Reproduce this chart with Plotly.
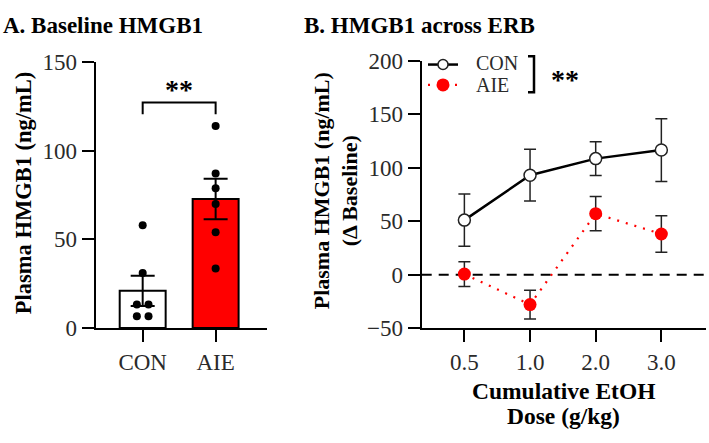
import plotly.graph_objects as go

# ---------------- data ----------------
groups = ["CON", "AIE"]
baseline_means = [21.0, 72.7]
baseline_sem = [8.5, 11.4]
con_points = [57.9, 31.0, 13.3, 13.3, 6.7, 6.7]
aie_points = [113.8, 87.1, 78.8, 69.9, 54.0, 33.6]

doses = ["0.5", "1.0", "2.0", "3.0"]
con_delta = [51.0, 93.0, 108.5, 116.5]
con_delta_sem = [24.5, 24.2, 15.7, 29.3]
aie_delta = [0.5, -28.0, 57.0, 38.0]
aie_delta_sem = [11.5, 13.5, 16.0, 17.0]

yticks_a = [0, 50, 100, 150]
yticks_b = [-50, 0, 50, 100, 150, 200]

# ---------------- style ----------------
W, H = 709, 443
FONT = "Liberation Serif"
TICK_COLOR = "#2a2a2a"
con_jitter = [0, 0, -0.08, 0.08, -0.08, 0.08]
aie_jitter = [0, 0, 0, 0, 0, 0]


def px(x):
    return x / W


def py(y):
    return 1 - y / H


fig = go.Figure()

# ---- Panel A: bars ----
fig.add_trace(go.Bar(
    x=list(range(len(groups))), y=baseline_means,
    width=0.63,
    marker=dict(color=["white", "#ff0000"], line=dict(color="black", width=2)),
    error_y=dict(type="data", array=baseline_sem, visible=True,
                 color="black", thickness=2, width=12),
    xaxis="x", yaxis="y", showlegend=False,
))
fig.add_trace(go.Scatter(
    x=[0 + j for j in con_jitter], y=con_points, mode="markers",
    marker=dict(color="black", size=8),
    xaxis="x", yaxis="y", showlegend=False,
))
fig.add_trace(go.Scatter(
    x=[1 + j for j in aie_jitter], y=aie_points, mode="markers",
    marker=dict(color="black", size=8),
    xaxis="x", yaxis="y", showlegend=False,
))

# ---- Panel B: lines ----
xb = list(range(len(doses)))
fig.add_trace(go.Scatter(
    x=xb, y=aie_delta, mode="lines+markers", name="AIE",
    line=dict(color="#ff0000", width=2.2, dash="2px,7px"),
    marker=dict(color="#ff0000", size=13, symbol="circle"),
    error_y=dict(type="data", array=aie_delta_sem, visible=True,
                 color="#222222", thickness=1.5, width=6),
    xaxis="x2", yaxis="y2", showlegend=False,
))
fig.add_trace(go.Scatter(
    x=xb, y=con_delta, mode="lines+markers", name="CON",
    line=dict(color="black", width=2.5),
    marker=dict(color="white", size=12, symbol="circle",
                line=dict(color="#222222", width=1.5)),
    error_y=dict(type="data", array=con_delta_sem, visible=True,
                 color="#222222", thickness=1.5, width=6),
    xaxis="x2", yaxis="y2", showlegend=False,
))

axis_common = dict(
    showline=True, linecolor="black", linewidth=2,
    ticks="outside", ticklen=12, tickwidth=2, tickcolor="black",
    showgrid=False, zeroline=False,
    tickfont=dict(family=FONT, size=23, color=TICK_COLOR),
)

fig.update_layout(
    width=W, height=H,
    margin=dict(l=0, r=0, t=0, b=0),
    paper_bgcolor="white", plot_bgcolor="white",
    font=dict(family=FONT, color="black"),
    xaxis=dict(axis_common, domain=[px(95.7), px(266.7)], anchor="y",
               range=[-0.644, 1.70], tickvals=[0, 1], ticktext=groups),
    yaxis=dict(axis_common, domain=[py(335), py(52.7)], anchor="x",
               range=[0, 150], tickvals=yticks_a),
    xaxis2=dict(axis_common, domain=[px(421.7), px(706)], anchor="y2",
                range=[-0.65, 3.68], tickvals=xb, ticktext=doses),
    yaxis2=dict(axis_common, domain=[py(335), py(51.7)], anchor="x2",
                range=[-50, 200], tickvals=yticks_b),
)

shapes = []
annotations = []

# significance bracket A
shapes.append(dict(type="path", xref="x", yref="y",
                   path="M 0,120.4 L 0,127 L 1,127 L 1,120.4",
                   line=dict(color="black", width=2)))
annotations.append(dict(xref="x", yref="y", x=0.5, y=134.6, yanchor="middle",
                        text="<b>**</b>", showarrow=False,
                        font=dict(family=FONT, size=28, color="black")))

# zero dashed line B
shapes.append(dict(type="line", xref="x2 domain", yref="y2", x0=0, x1=1, y0=0, y1=0,
                   line=dict(color="black", width=2, dash="10px,7px"), layer="below"))

# manual legend B
shapes.append(dict(type="line", xref="paper", yref="paper",
                   x0=px(428), x1=px(458), y0=py(55.7), y1=py(55.7),
                   line=dict(color="black", width=2.5)))
shapes.append(dict(type="circle", xref="paper", yref="paper",
                   xsizemode="pixel", ysizemode="pixel",
                   xanchor=px(443), yanchor=py(55.7), x0=-5, x1=5, y0=-5, y1=5,
                   fillcolor="white", line=dict(color="#222222", width=1.5)))
shapes.append(dict(type="line", xref="paper", yref="paper",
                   x0=px(428), x1=px(458), y0=py(77.3), y1=py(77.3),
                   line=dict(color="#ff0000", width=2.2, dash="2px,7px")))
shapes.append(dict(type="circle", xref="paper", yref="paper",
                   xsizemode="pixel", ysizemode="pixel",
                   xanchor=px(443), yanchor=py(77.3), x0=-6.5, x1=6.5, y0=-6.5, y1=6.5,
                   fillcolor="#ff0000", line=dict(color="#ff0000", width=0)))
annotations.append(dict(xref="paper", yref="paper", x=px(474), y=py(54.5),
                        xanchor="left", yanchor="middle", text="CON", showarrow=False,
                        font=dict(family=FONT, size=20, color=TICK_COLOR)))
annotations.append(dict(xref="paper", yref="paper", x=px(474), y=py(77.5),
                        xanchor="left", yanchor="middle", text="AIE", showarrow=False,
                        font=dict(family=FONT, size=20, color=TICK_COLOR)))
shapes.append(dict(type="path", xref="paper", yref="paper",
                   path=f"M {px(528)},{py(47)} L {px(534)},{py(47)} L {px(534)},{py(85)} L {px(528)},{py(85)}",
                   line=dict(color="black", width=2.5)))
annotations.append(dict(xref="paper", yref="paper", x=px(565), y=py(71.5),
                        xanchor="center", yanchor="middle", text="<b>**</b>", showarrow=False,
                        font=dict(family=FONT, size=28, color="black")))

# titles
annotations.append(dict(xref="paper", yref="paper", x=px(2), y=1,
                        xanchor="left", yanchor="top", text="<b>A. Baseline HMGB1</b>",
                        borderpad=0,
                        showarrow=False, font=dict(family=FONT, size=23, color="black")))
annotations.append(dict(xref="paper", yref="paper", x=px(303), y=1,
                        xanchor="left", yanchor="top", text="<b>B. HMGB1 across ERB</b>",
                        borderpad=0,
                        showarrow=False, font=dict(family=FONT, size=23, color="black")))

# axis titles
annotations.append(dict(xref="paper", yref="paper", x=px(23), y=py(192),
                        xanchor="center", yanchor="middle", textangle=-90,
                        text="<b>Plasma HMGB1 (ng/mL)</b>",
                        showarrow=False, font=dict(family=FONT, size=22.5, color="black")))
annotations.append(dict(xref="paper", yref="paper", x=px(336), y=py(190),
                        xanchor="center", yanchor="middle", textangle=-90,
                        text="<b>Plasma HMGB1 (ng/mL)</b><br><b>(Δ Baseline)</b>",
                        showarrow=False, font=dict(family=FONT, size=22, color="black")))
annotations.append(dict(xref="paper", yref="paper", x=px(563), y=py(402),
                        xanchor="center", yanchor="middle", borderpad=0,
                        text="<b>Cumulative EtOH</b>",
                        showarrow=False, font=dict(family=FONT, size=23.5, color="black")))
annotations.append(dict(xref="paper", yref="paper", x=px(563), y=0,
                        xanchor="center", yanchor="bottom", borderpad=0,
                        text="<b>Dose (g/kg)</b>",
                        showarrow=False, font=dict(family=FONT, size=23.5, color="black")))

fig.update_layout(shapes=shapes, annotations=annotations)
fig.write_html("out.html")
